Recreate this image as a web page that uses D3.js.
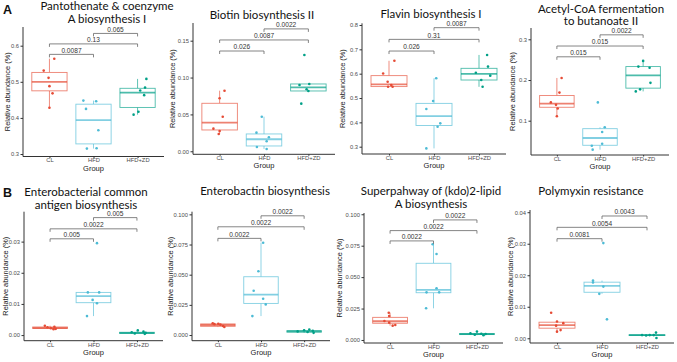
<!DOCTYPE html>
<html>
<head>
<meta charset="utf-8">
<script src="https://cdn.jsdelivr.net/npm/d3@7"></script>
<style>
  body { margin: 0; background: #fff; }
  svg { display: block; }
  .tick text { font-family: "Liberation Sans", Arial, sans-serif; fill: #4d4d4d; }
  .axis path, .axis line { stroke: #333; }
</style>
</head>
<body>
<div id="wrapper"></div>
<script>
// data
const groups = ["CL", "HFD", "HFD+ZD"]
const groupColors = ["#E64B35", "#4DBBD5", "#00A087"]

const titles = [
  ["Pantothenate & coenzyme", "A biosynthesis I"],
  ["Biotin biosynthesis II"],
  ["Flavin biosynthesis I"],
  ["Acetyl-CoA fermentation", "to butanoate II"],
  ["Enterobacterial common", "antigen biosynthesis"],
  ["Enterobactin biosynthesis"],
  ["Superpahway of (kdo)2-lipid", "A biosynthesis"],
  ["Polymyxin resistance"],
]
const panelLetters = ["A", null, null, null, "B", null, null, null]

const yDomains = [
  [0.2931, 0.6518], [-0.0041, 0.174], [0.270, 0.807], [0.0157, 0.3278],
  [-0.0018, 0.0396], [-0.0047, 0.1022], [-0.0024, 0.101], [-0.0015, 0.0407],
]
const yTicks = [
  [0.3, 0.4, 0.5, 0.6], [0, 0.05, 0.1, 0.15], [0.3, 0.4, 0.5, 0.6, 0.7, 0.8], [0.1, 0.2, 0.3],
  [0, 0.01, 0.02, 0.03], [0, 0.025, 0.05, 0.075, 0.1], [0, 0.025, 0.05, 0.075, 0.1], [0, 0.01, 0.02, 0.03, 0.04],
]
const yTickFormats = [".1f", ".2f", ".1f", ".1f", ".2f", ".3f", ".3f", ".2f"]

// points per panel for each group
const clPoints = [
  [0.564, 0.531, 0.511, 0.488, 0.468, 0.428],
  [0.0822, 0.0719, 0.0469, 0.0307, 0.0275, 0.0235],
  [0.653, 0.601, 0.567, 0.553, 0.546, 0.546],
  [0.205, 0.169, 0.145, 0.139, 0.130, 0.111],
  [0.0030, 0.0027, 0.0025, 0.0022, 0.0020, 0.0019],
  [0.0097, 0.0093, 0.0090, 0.0086, 0.0075, 0.0066],
  [0.0217, 0.0191, 0.0151, 0.0138, 0.0119, 0.0114],
  [0.0081, 0.0053, 0.0048, 0.0040, 0.0026, 0.0021],
]
const hfdPoints = [
  [0.448, 0.446, 0.425, 0.366, 0.315, 0.316],
  [0.0469, 0.0253, 0.019, 0.0136, 0.0058, 0.0031],
  [0.581, 0.488, 0.455, 0.396, 0.382, 0.293],
  [0.145, 0.0838, 0.0723, 0.0435, 0.0386, 0.0288],
  [0.0295, 0.0137, 0.0137, 0.0113, 0.0102, 0.0061],
  [0.0765, 0.0528, 0.0367, 0.0301, 0.0254, 0.0157],
  [0.0761, 0.0684, 0.0411, 0.0379, 0.0379, 0.0252],
  [0.0302, 0.0183, 0.0177, 0.0164, 0.0141, 0.0060],
]
const hfdzdPoints = [
  [0.508, 0.484, 0.476, 0.463, 0.417, 0.409],
  [0.1306, 0.0913, 0.0899, 0.0841, 0.0818, 0.0646],
  [0.677, 0.629, 0.604, 0.592, 0.574, 0.546],
  [0.247, 0.233, 0.230, 0.193, 0.177, 0.172],
  [0.0015, 0.0011, 0.0009, 0.0007, 0.0005, 0.0004],
  [0.0045, 0.0040, 0.0035, 0.0030, 0.0025, 0.0018],
  [0.0068, 0.0053, 0.0050, 0.0047, 0.0042, 0.0038],
  [0.0018, 0.0010, 0.0010, 0.0010, 0.0009, 0.0001],
]
// horizontal jitter of each point, in category units
const clJitter = [
  [0.11, -0.13, -0.02, 0, 0.07, 0], [0.11, 0, 0.07, -0.14, 0, -0.02],
  [0.12, -0.13, -0.03, 0.05, -0.02, 0.08], [0.11, 0.06, -0.14, -0.02, 0.02, 0],
  [-0.12, 0.1, -0.06, 0.02, 0.13, 0.08], [-0.12, 0.01, -0.08, 0.06, 0.12, 0.15],
  [-0.03, -0.02, -0.13, -0.02, 0.12, 0.06], [-0.13, 0, 0.14, -0.02, 0.08, 0],
]
const hfdJitter = [
  [-0.23, 0.06, -0.17, 0.11, -0.15, 0.07], [-0.05, -0.17, 0.11, 0.06, -0.16, 0.06],
  [0.05, -0.02, -0.17, 0.14, 0.08, -0.17], [-0.05, 0.11, 0.05, 0.05, -0.19, -0.17],
  [0.08, -0.13, 0.13, -0.02, 0.08, -0.15], [0.05, -0.06, -0.17, 0.05, 0.11, -0.2],
  [-0.02, 0.07, 0.07, -0.16, 0.13, -0.17], [0.03, -0.2, -0.2, 0.03, -0.06, 0.11],
]
const hfdzdJitter = [
  [0.2, 0.17, 0.06, 0.15, 0.02, -0.09], [-0.09, 0.02, -0.2, -0.04, 0, -0.16],
  [0.18, 0.2, -0.07, 0.25, 0.05, 0.08], [0, -0.11, 0.15, 0.17, -0.07, -0.17],
  [0.02, 0.15, -0.12, 0.2, -0.05, 0.18], [0.12, 0, 0.2, -0.15, 0.08, 0.22],
  [0, -0.15, 0.1, 0.2, -0.05, 0.15], [0.2, -0.11, 0.06, 0.15, -0.02, 0.21],
]
// box stats: [lower whisker, q1, median, q3, upper whisker]
const clBoxes = [
  [0.428, 0.475, 0.500, 0.526, 0.564], [0.0235, 0.0289, 0.0388, 0.0651, 0.0822],
  [0.546, 0.547, 0.556, 0.592, 0.653], [0.111, 0.133, 0.142, 0.162, 0.205],
  [0.0019, 0.0021, 0.0023, 0.0026, 0.0030], [0.0066, 0.0072, 0.0083, 0.0092, 0.0097],
  [0.0114, 0.0133, 0.0149, 0.0180, 0.0217], [0.0021, 0.0032, 0.0042, 0.0051, 0.0053],
]
const hfdBoxes = [
  [0.315, 0.328, 0.394, 0.438, 0.448], [0.0031, 0.0072, 0.0163, 0.0235, 0.0469],
  [0.293, 0.387, 0.426, 0.478, 0.581], [0.0288, 0.0396, 0.0575, 0.0804, 0.0838],
  [0.0061, 0.0104, 0.0125, 0.0137, 0.0137], [0.0157, 0.0262, 0.0334, 0.0483, 0.0765],
  [0.0252, 0.0376, 0.0398, 0.0610, 0.0761], [0.0141, 0.0146, 0.0166, 0.0178, 0.0183],
]
const hfdzdBoxes = [
  [0.409, 0.429, 0.470, 0.482, 0.508], [0.0818, 0.0818, 0.0868, 0.0913, 0.0913],
  [0.546, 0.574, 0.599, 0.622, 0.677], [0.172, 0.180, 0.2115, 0.233, 0.247],
  [0.0004, 0.0005, 0.0007, 0.0009, 0.0011], [0.0018, 0.0024, 0.0030, 0.0036, 0.0045],
  [0.0038, 0.0043, 0.0047, 0.0052, 0.0068], [0.0009, 0.0009, 0.0010, 0.0011, 0.0011],
]
// p values for CL-HFD, CL-HFD+ZD, HFD-HFD+ZD and the height of each bracket
const pLabels = [
  ["0.0087", "0.13", "0.065"], ["0.026", "0.0087", "0.0022"],
  ["0.026", "0.31", "0.0087"], ["0.015", "0.015", "0.0022"],
  ["0.005", "0.0022", "0.005"], ["0.0022", "0.0022", "0.0022"],
  ["0.0022", "0.0022", "0.0022"], ["0.0081", "0.0054", "0.0043"],
]
const bracketHeights = [
  [0.576, 0.605, 0.634], [0.136, 0.151, 0.166], [0.693, 0.741, 0.789], [0.257, 0.2835, 0.311],
  [0.0309, 0.0341, 0.0377], [0.0801, 0.0897, 0.0988], [0.0788, 0.087, 0.0955], [0.0316, 0.0352, 0.0388],
]
const bracketPairs = [[0, 1], [0, 2], [1, 2]]

// layout of each small plot: [left, top, right, bottom], title centre, title baselines, y label x
const layout = [
  { rect: [23, 27, 164, 156.5], tx: 107, ty: [10, 22.5], lx: 7.5 },
  { rect: [193, 23, 335, 154.3], tx: 262, ty: [18.7], lx: 172 },
  { rect: [362, 23.3, 506, 154], tx: 431, ty: [18.3], lx: 342 },
  { rect: [531, 28, 669, 155], tx: 601, ty: [12.5, 25], lx: 512 },
  { rect: [24, 211.7, 163, 340.7], tx: 86, ty: [196, 209], lx: 5.5 },
  { rect: [192, 211.7, 330, 340.7], tx: 265, ty: [194.5], lx: 170 },
  { rect: [364, 213, 503, 343], tx: 431, ty: [194.5, 207.5], lx: 339.5 },
  { rect: [530, 210, 674, 343], tx: 591, ty: [194.5], lx: 510.5 },
]

const width = 677
const height = 362
const titleFont = "Lato, 'Open Sans', sans-serif"
const axisFont = "'Liberation Sans', Arial, sans-serif"

const svg = d3.select("#wrapper")
  .append("svg")
    .attr("width", width)
    .attr("height", height)

const allPoints = [clPoints, hfdPoints, hfdzdPoints]
const allJitter = [clJitter, hfdJitter, hfdzdJitter]
const allBoxes = [clBoxes, hfdBoxes, hfdzdBoxes]

layout.forEach((lay, i) => {
  const [x0, y0, x1, y1] = lay.rect
  const g = svg.append("g")

  const xScale = d3.scalePoint()
    .domain(groups)
    .range([x0, x1])
    .padding(0.6)
  const step = xScale.step()

  const yScale = d3.scaleLinear()
    .domain(yDomains[i])
    .range([y1, y0])

  // boxes
  groups.forEach((grp, gi) => {
    const [lo, q1, med, q3, hi] = allBoxes[gi][i]
    const cx = xScale(grp)
    const bw = step * 0.8
    const col = groupColors[gi]
    const bg = g.append("g")
        .attr("stroke", col)
        .attr("stroke-opacity", 0.7)
        .attr("fill", "none")
    bg.append("line")
        .attr("x1", cx).attr("x2", cx)
        .attr("y1", yScale(hi)).attr("y2", yScale(q3))
        .attr("stroke-width", 0.9)
    bg.append("line")
        .attr("x1", cx).attr("x2", cx)
        .attr("y1", yScale(q1)).attr("y2", yScale(lo))
        .attr("stroke-width", 0.9)
    bg.append("rect")
        .attr("x", cx - bw / 2)
        .attr("y", yScale(q3))
        .attr("width", bw)
        .attr("height", Math.max(0.5, yScale(q1) - yScale(q3)))
        .attr("fill", "#fff")
        .attr("stroke-width", 0.9)
    bg.append("line")
        .attr("x1", cx - bw / 2).attr("x2", cx + bw / 2)
        .attr("y1", yScale(med)).attr("y2", yScale(med))
        .attr("stroke-width", 1.8)

    // jittered points
    g.append("g").selectAll("circle")
      .data(allPoints[gi][i])
      .join("circle")
        .attr("cx", (d, k) => cx + allJitter[gi][i][k] * step)
        .attr("cy", d => yScale(d))
        .attr("r", 1.3)
        .attr("fill", col)
  })

  // significance brackets
  bracketPairs.forEach(([a, b], k) => {
    const by = yScale(bracketHeights[i][k])
    const xa = xScale(groups[a])
    const xb = xScale(groups[b])
    g.append("path")
        .attr("d", `M${xa},${by + 3}V${by}H${xb}V${by + 3}`)
        .attr("fill", "none")
        .attr("stroke", "#666")
        .attr("stroke-width", 0.8)
    g.append("text")
        .attr("x", (xa + xb) / 2)
        .attr("y", by - 1.6)
        .attr("text-anchor", "middle")
        .style("font-family", axisFont)
        .style("font-size", "6.6px")
        .attr("fill", "#333")
        .text(pLabels[i][k])
  })

  // axes
  const yAxisGenerator = d3.axisLeft(yScale)
    .tickValues(yTicks[i])
    .tickFormat(d3.format(yTickFormats[i]))
    .tickSize(2.5)
    .tickSizeOuter(0)
    .tickPadding(1.5)
  const yAxis = g.append("g")
      .attr("class", "axis")
      .attr("transform", `translate(${x0},0)`)
    .call(yAxisGenerator)
  yAxis.select(".domain").attr("d", `M0,${y0}V${y1}`)
  yAxis.selectAll(".tick text").style("font-size", "5.8px")

  const xAxisGenerator = d3.axisBottom(xScale)
    .tickSize(1.5)
    .tickSizeOuter(0)
    .tickPadding(0.3)
  const xAxis = g.append("g")
      .attr("class", "axis")
      .attr("transform", `translate(0,${y1})`)
    .call(xAxisGenerator)
  xAxis.select(".domain").attr("d", `M${x0},0H${x1}`)
  xAxis.selectAll(".tick text").style("font-size", "5.8px")

  g.append("text")
      .attr("x", (x0 + x1) / 2)
      .attr("y", y1 + 14)
      .attr("text-anchor", "middle")
      .style("font-family", axisFont)
      .style("font-size", "7.5px")
      .attr("fill", "#222")
      .text("Group")

  g.append("text")
      .attr("transform", `translate(${lay.lx},${(y0 + y1) / 2}) rotate(-90)`)
      .attr("dy", "0.35em")
      .attr("text-anchor", "middle")
      .style("font-family", axisFont)
      .style("font-size", "7.4px")
      .attr("fill", "#222")
      .text("Relative abundance (%)")

  // title
  titles[i].forEach((line, k) => {
    g.append("text")
        .attr("x", lay.tx)
        .attr("y", lay.ty[k])
        .attr("text-anchor", "middle")
        .style("font-family", titleFont)
        .style("font-size", "11.5px")
        .attr("fill", "#111")
        .text(line)
  })

  if (panelLetters[i]) {
    g.append("text")
        .attr("x", 3)
        .attr("y", i === 0 ? 14 : 197)
        .style("font-family", axisFont)
        .style("font-weight", "bold")
        .style("font-size", "12.5px")
        .attr("fill", "#111")
        .text(panelLetters[i])
  }
})
</script>
</body>
</html>
